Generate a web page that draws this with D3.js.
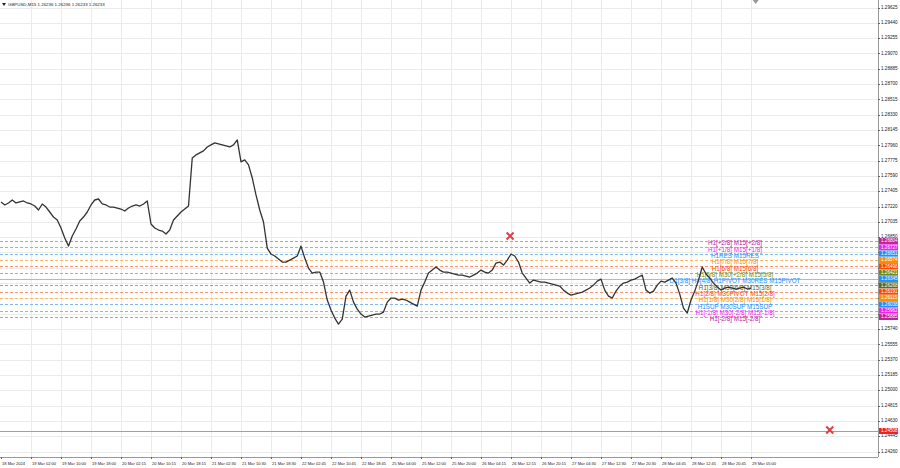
<!DOCTYPE html>
<html><head><meta charset="utf-8">
<script src="https://cdn.jsdelivr.net/npm/d3@7/dist/d3.min.js"></script>
<style>body{margin:0;background:#fff;overflow:hidden}svg{display:block}</style>
</head><body>
<svg id="c" width="900" height="468"></svg>
<script>
// ---------- data ----------
const chartTitle = "GBPUSD,M15  1.26236 1.26236 1.26233 1.26233";

// close price sampled every 4 M15 bars (1 hour)
const closes = [
1.27275,1.27239,1.27263,1.27299,1.27263,1.27275,1.27287,1.27263,1.27251,1.27226,
1.27178,1.27251,1.27214,1.27154,1.27093,1.27057,1.26961,1.26840,1.26742,1.26864,
1.26948,1.27045,1.27093,1.27154,1.27239,1.27299,1.27311,1.27251,1.27239,1.27214,
1.27214,1.27202,1.27190,1.27166,1.27202,1.27226,1.27239,1.27226,1.27251,1.27287,
1.27009,1.26961,1.26936,1.26924,1.26888,1.26936,1.27057,1.27105,1.27154,1.27190,
1.27226,1.27807,1.27844,1.27868,1.27892,1.27940,1.27965,1.27989,1.27977,1.27965,
1.27952,1.27940,1.27965,1.28025,1.27759,1.27783,1.27723,1.27565,1.27360,1.27178,
1.27033,1.26718,1.26646,1.26622,1.26585,1.26549,1.26549,1.26573,1.26597,1.26622,
1.26742,1.26597,1.26477,1.26416,1.26428,1.26428,1.26307,1.26090,1.25969,1.25872,
1.25800,1.25860,1.26138,1.26210,1.26065,1.25981,1.25921,1.25884,1.25896,1.25909,
1.25921,1.25921,1.25945,1.26065,1.26114,1.26114,1.26090,1.26102,1.26090,1.26065,
1.26041,1.26017,1.26210,1.26307,1.26416,1.26452,1.26489,1.26452,1.26428,1.26428,
1.26416,1.26404,1.26392,1.26392,1.26380,1.26368,1.26392,1.26416,1.26452,1.26428,
1.26416,1.26452,1.26537,1.26549,1.26513,1.26573,1.26646,1.26622,1.26549,1.26416,
1.26356,1.26295,1.26331,1.26319,1.26307,1.26307,1.26295,1.26283,1.26271,1.26259,
1.26210,1.26174,1.26150,1.26162,1.26174,1.26186,1.26210,1.26235,1.26271,1.26319,
1.26343,1.26210,1.26138,1.26114,1.26198,1.26259,1.26295,1.26307,1.26331,1.26343,
1.26368,1.26392,1.26210,1.26174,1.26198,1.26271,1.26319,1.26307,1.26331,1.26356,
1.26295,1.26162,1.25993,1.25933,1.26090,1.26198,1.26331,1.26489,1.26404,1.26356,
1.26295,1.26247,1.26210,1.26235,1.26247,1.26235,1.26223,1.26235,1.26247,1.26223,
1.26233
];
const barsPerPoint = 4;

const timeLabels = ["18 Mar 2024","19 Mar 02:00","19 Mar 10:00","19 Mar 18:00","20 Mar 02:15",
"20 Mar 10:15","20 Mar 18:15","21 Mar 02:30","21 Mar 10:30","21 Mar 18:30","22 Mar 02:45",
"22 Mar 10:45","22 Mar 18:45","25 Mar 04:00","25 Mar 12:00","25 Mar 20:00","26 Mar 04:15",
"26 Mar 12:15","26 Mar 20:15","27 Mar 04:30","27 Mar 12:30","27 Mar 20:30","28 Mar 04:45",
"28 Mar 12:45","28 Mar 20:45","29 Mar 05:00"];
const barsPerLabel = 32;

const priceTicks = [1.29625,1.29440,1.29255,1.29070,1.28885,1.28700,1.28515,1.28330,1.28145,
1.27960,1.27775,1.27590,1.27405,1.27220,1.27035,1.26850,1.26665,1.26480,1.26295,1.26110,
1.25925,1.25740,1.25555,1.25370,1.25185,1.25000,1.24815,1.24630,1.24445,1.24260];

const levelPrices = [1.26804,1.26727,1.26651,1.26574,1.26498,1.26421,1.26345,1.26268,
1.26191,1.26115,1.26038,1.25962,1.25885];
const levelNames = ["H1[+2/8] M15[+2/8]","H1[+1/8] M15[+1/8]","H1RES M15RES","H1[7/8] M15[7/8]",
"H1[6/8] M15[6/8]","H1[5/8] M30[+2/8] M15[5/8]","D1[3/8] H4[4/8] H1PIVOT M30RES M15PIVOT",
"H1[3/8] M30[6/8] M15[3/8]","H1[2/8] M30PIVOT M15[2/8]","H1[1/8] M30[2/8] M15[1/8]",
"H1SUP M30SUP M15SUP","H1[-1/8] M30[-2/8] M15[-1/8]","H1[-2/8] M15[-2/8]"];
const levelColors = ["#c0239a","#ee22ee","#1e90ff","#ff8c00","#ff4500","#6b8e23","#1e90ff",
"#556b2f","#ff4500","#ff8c00","#1e90ff","#ee22ee","#c0239a"];
const levelLineColors = ["#f07ade","#f77ef7","#7fbaf5","#ffb866","#ff9470","#a8b878","#8cc4f7",
"#a0a882","#ff9470","#ffb866","#7fbaf5","#f77ef7","#f07ade"];
const pivotIndex = 6;

const alertPrice = 1.24508;
const markerBars = [543, 884];
const markerPrices = [1.26864, 1.24520];

// ---------- layout ----------
const W = 900, H = 468, plotR = 878, plotB = 457;
const svg = d3.select("#c");
const x = d3.scaleLinear().domain([0, barsPerLabel]).range([1, 31]);
const y = d3.scaleLinear().domain([priceTicks[0], priceTicks[priceTicks.length-1]]).range([7.5, 451.5]);
const font = "'Liberation Sans', Arial, sans-serif";

svg.append("rect").attr("width",W).attr("height",H).attr("fill","#fff");

// grid
const grid = svg.append("g").attr("stroke","#ebebeb").attr("stroke-width",1);
grid.selectAll("line.h").data(priceTicks).join("line").attr("class","h")
  .attr("x1",0).attr("x2",plotR).attr("y1",d=>Math.round(y(d))+0.5).attr("y2",d=>Math.round(y(d))+0.5);
grid.selectAll("line.v").data(timeLabels.slice(1)).join("line").attr("class","v")
  .attr("x1",(d,i)=>Math.round(x((i+1)*barsPerLabel))+0.5).attr("x2",(d,i)=>Math.round(x((i+1)*barsPerLabel))+0.5)
  .attr("y1",0).attr("y2",plotB);

// level lines
svg.append("g").selectAll("line").data(levelPrices).join("line")
  .attr("x1",0).attr("x2",plotR)
  .attr("y1",d=>Math.round(y(d))+0.5).attr("y2",d=>Math.round(y(d))+0.5)
  .attr("stroke",(d,i)=>levelLineColors[i])
  .attr("stroke-dasharray",(d,i)=>i===pivotIndex?null:"3,2")
  .attr("stroke-width",1);

// alert line
svg.append("line").attr("x1",0).attr("x2",plotR)
  .attr("y1",Math.round(y(alertPrice))+0.5).attr("y2",Math.round(y(alertPrice))+0.5)
  .attr("stroke","#ff7878");

// level texts
svg.append("g").selectAll("text").data(levelPrices).join("text")
  .attr("x",735).attr("y",d=>y(d)+2.8).attr("text-anchor","middle").attr("dominant-baseline","middle")
  .attr("font-family",font).attr("font-size",6.3).attr("fill",(d,i)=>levelColors[i])
  .text((d,i)=>levelNames[i]);

// price line
const line = d3.line().x((d,i)=>x(i*barsPerPoint)).y(d=>y(d));
svg.append("path").datum(closes).attr("d",line).attr("fill","none")
  .attr("stroke","#333").attr("stroke-width",1.3).attr("stroke-linejoin","round");

// markers
svg.append("g").selectAll("path").data(markerBars).join("path")
  .attr("transform",(d,i)=>`translate(${x(d)},${y(markerPrices[i])})`)
  .attr("d","M-3.5,-3.5L3.5,3.5M3.5,-3.5L-3.5,3.5")
  .attr("stroke","#e04040").attr("stroke-width",2);

// axes frame
svg.append("line").attr("x1",plotR+0.5).attr("x2",plotR+0.5).attr("y1",0).attr("y2",plotB).attr("stroke","#999");
svg.append("line").attr("x1",0).attr("x2",plotR).attr("y1",plotB+0.5).attr("y2",plotB+0.5).attr("stroke","#999");

// price axis labels (those behind the level price boxes are hidden, as in the reference)
const lvMax = d3.max(levelPrices), lvMin = d3.min(levelPrices);
const visibleTicks = priceTicks.filter(t => !(t < lvMax + 0.0002 && t > lvMin - 0.0002));
const ax = svg.append("g").attr("font-family",font).attr("font-size",4.6);
ax.selectAll("line").data(priceTicks).join("line")
  .attr("x1",plotR).attr("x2",plotR+2).attr("y1",d=>Math.round(y(d))+0.5).attr("y2",d=>Math.round(y(d))+0.5).attr("stroke","#666");
ax.selectAll("text").data(visibleTicks).join("text")
  .attr("x",881).attr("y",d=>y(d)).attr("dominant-baseline","middle").attr("fill","#222")
  .text(d=>d.toFixed(5));

// level price boxes
const bx = svg.append("g").attr("font-family",font).attr("font-size",4.6);
bx.selectAll("rect").data(levelPrices).join("rect")
  .attr("x",879).attr("y",d=>y(d)-3).attr("width",19).attr("height",6)
  .attr("fill",(d,i)=>levelColors[i]);
bx.selectAll("text").data(levelPrices).join("text")
  .attr("x",881).attr("y",d=>y(d)+0.2).attr("dominant-baseline","middle").attr("fill","#fff")
  .text(d=>d.toFixed(5));
bx.append("rect").attr("x",879).attr("y",y(alertPrice)-3).attr("width",19).attr("height",6).attr("fill","#f02020");
bx.append("text").attr("x",881).attr("y",y(alertPrice)+0.2).attr("dominant-baseline","middle").attr("fill","#fff").text(alertPrice.toFixed(5));

// time axis labels
const tx = svg.append("g").attr("font-family",font).attr("font-size",4.1);
tx.selectAll("line").data(timeLabels).join("line")
  .attr("x1",(d,i)=>Math.round(x(i*barsPerLabel))+0.5).attr("x2",(d,i)=>Math.round(x(i*barsPerLabel))+0.5)
  .attr("y1",plotB).attr("y2",plotB+2).attr("stroke","#666");
tx.selectAll("text").data(timeLabels).join("text")
  .attr("x",(d,i)=>x(i*barsPerLabel)+1).attr("y",463.5).attr("dominant-baseline","middle").attr("fill","#222")
  .text(d=>d);

// title
svg.append("path").attr("d","M2,3L6,3L4,6Z").attr("fill","#222");
svg.append("text").attr("x",8).attr("y",4.8).attr("dominant-baseline","middle")
  .attr("font-family",font).attr("font-size",4.4).attr("fill","#222").text(chartTitle);
// chart shift marker
svg.append("path").attr("d",`M${x(805)-3},0L${x(805)+3},0L${x(805)},4Z`).attr("fill","#999");
</script>
</body></html>
